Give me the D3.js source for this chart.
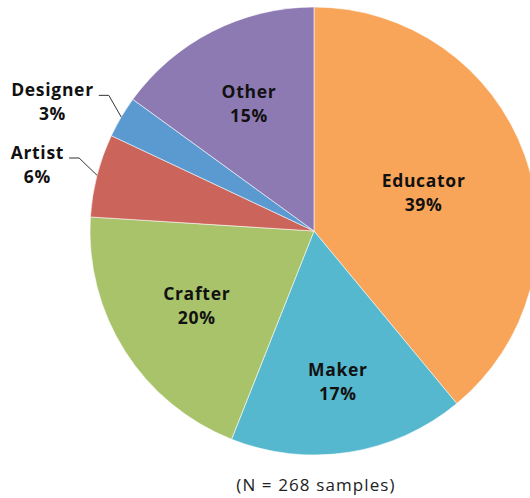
<!DOCTYPE html>
<html>
<head>
<meta charset="utf-8">
<script src="https://cdn.jsdelivr.net/npm/d3@7"></script>
<style>
  html, body { margin: 0; padding: 0; background: #fff; }
  svg { display: block; }
  text { font-family: "Open Sans", "DejaVu Sans", sans-serif; }
</style>
</head>
<body>
<svg id="chart" width="530" height="498"></svg>
<script>
// Respondent roles, clockwise from 12 o'clock
const categories = ["Educator", "Maker", "Crafter", "Artist", "Designer", "Other"];
const shares = [39, 17, 20, 6, 3, 15];
const colors = ["#F8A55A", "#56B8CF", "#A8C36A", "#CB645A", "#5A9AD1", "#8E7AB3"];
const footnote = "(N = 268 samples)";

// Layout
const W = 530, H = 498;
const cx = 314, cy = 231, R = 224;
// radial position of in-slice labels (fraction of radius)
const labelRadius = { Educator: 0.52, Maker: 0.68, Crafter: 0.62, Other: 0.64 };
const outside = new Set(["Artist", "Designer"]);

const svg = d3.select("#chart");
const g = svg.append("g").attr("transform", `translate(${cx},${cy})`);

const data = categories.map((c, i) => ({ name: c, value: shares[i], color: colors[i] }));

const pie = d3.pie().value(d => d.value).sort(null);
const arc = d3.arc().innerRadius(0).outerRadius(R);
const arcs = pie(data);

g.selectAll("path.slice")
  .data(arcs)
  .join("path")
  .attr("class", "slice")
  .attr("d", arc)
  .attr("fill", d => d.data.color)
  .attr("stroke", "#fff")
  .attr("stroke-width", 0.8)
  .attr("stroke-opacity", 0.7);

const fontSize = 17.5;
const spacing = 0.7;
const lineGap = 24;

// two-line label (name, then percentage) as separate text elements
function label(x, y, d) {
  const opts = t => t
    .attr("text-anchor", "middle")
    .attr("font-size", fontSize)
    .attr("font-weight", "bold")
    .attr("letter-spacing", spacing)
    .attr("fill", "#111");
  g.append("text").call(opts).attr("x", x).attr("y", y).text(d.data.name);
  g.append("text").call(opts).attr("x", x).attr("y", y + lineGap).text(d.data.value + "%");
}

// Labels inside the slices
arcs.filter(d => !outside.has(d.data.name)).forEach(d => {
  const k = labelRadius[d.data.name];
  const [x, y] = d3.arc().innerRadius(R * k).outerRadius(R * k).centroid(d);
  label(x, y - 5, d);
});

// Small slices: labels outside with elbow leader lines
arcs.filter(d => outside.has(d.data.name)).forEach(d => {
  const mid = (d.startAngle + d.endAngle) / 2;
  const p0 = d3.pointRadial(mid, R);
  const p1 = d3.pointRadial(mid + 0.05, R + 22);
  const p2 = [p1[0] - 10, p1[1]];
  g.append("polyline")
    .attr("points", [p0, p1, p2].map(p => p.join(",")).join(" "))
    .attr("fill", "none")
    .attr("stroke", "#333")
    .attr("stroke-width", 1);
  // measure the name so the block ends just left of the leader
  const probe = g.append("text")
    .attr("font-size", fontSize)
    .attr("font-weight", "bold")
    .attr("letter-spacing", spacing)
    .text(d.data.name);
  const w = probe.node().getComputedTextLength();
  probe.remove();
  label(p2[0] - 5 - w / 2, p2[1] + 1, d);
});

svg.append("text")
  .attr("x", cx + 2)
  .attr("y", 491)
  .attr("text-anchor", "middle")
  .attr("font-size", 17)
  .attr("letter-spacing", 1.1)
  .attr("fill", "#222")
  .text(footnote);
</script>
</body>
</html>
